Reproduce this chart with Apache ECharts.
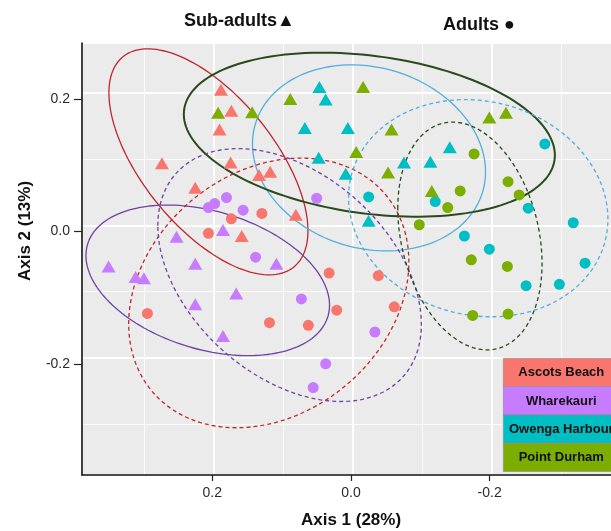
<!DOCTYPE html>
<html>
<head>
<meta charset="utf-8">
<script src="https://cdn.jsdelivr.net/npm/echarts@6/dist/echarts.min.js"></script>
<style>
html, body { margin: 0; padding: 0; background: #fff; }
#box1 { width: 611px; height: 531px; }
</style>
</head>
<body>
<div id="box1"></div>
<script>
var sites = ['Ascots Beach', 'Wharekauri', 'Owenga Harbour', 'Point Durham'];
var pointColors = ['#F8766D', '#C77CFF', '#00BFC4', '#7CAE00'];
var ellipseColors = ['#C0262D', '#6E42A3', '#4FB0DC', '#284A1C'];

// PCoA scores [axis 1, axis 2]
var ascotsSub = [[0.190, 0.205], [0.175, 0.173], [0.192, 0.145], [0.275, 0.094], [0.176, 0.095],
                 [0.135, 0.076], [0.119, 0.081], [0.227, 0.057], [0.082, 0.016], [0.160, -0.016]];
var ascotsAdult = [[0.131, 0.018], [0.175, 0.010], [0.208, -0.012], [0.296, -0.133], [0.120, -0.147],
                   [0.064, -0.151], [0.034, -0.072], [-0.037, -0.076], [0.023, -0.128], [-0.060, -0.123]];
var whareSub = [[0.254, -0.017], [0.187, -0.007], [0.352, -0.062], [0.313, -0.078], [0.301, -0.080],
                [0.227, -0.058], [0.110, -0.058], [0.168, -0.103], [0.227, -0.119], [0.187, -0.167]];
var whareAdult = [[0.182, 0.042], [0.199, 0.033], [0.208, 0.027], [0.158, 0.023], [0.140, -0.048],
                  [0.052, 0.041], [0.074, -0.111], [-0.032, -0.161], [0.039, -0.209], [0.057, -0.245]];
var owengaSub = [[0.048, 0.209], [0.039, 0.190], [0.069, 0.147], [0.007, 0.147], [0.049, 0.102],
                 [0.010, 0.078], [-0.023, 0.007], [-0.074, 0.095], [-0.112, 0.096], [-0.140, 0.118]];
var owengaAdult = [[-0.277, 0.123], [-0.023, 0.043], [-0.119, 0.036], [-0.253, 0.026], [-0.318, 0.004],
                   [-0.161, -0.016], [-0.197, -0.036], [-0.335, -0.057], [-0.250, -0.091], [-0.298, -0.089]];
var durhamSub = [[0.194, 0.170], [0.145, 0.171], [0.090, 0.191], [-0.015, 0.209], [-0.056, 0.145],
                 [-0.005, 0.111], [-0.051, 0.080], [-0.114, 0.052], [-0.197, 0.163], [-0.221, 0.170]];
var durhamAdult = [[-0.175, 0.108], [-0.224, 0.066], [-0.240, 0.046], [-0.155, 0.052], [-0.137, 0.027],
                   [-0.096, 0.001], [-0.171, -0.052], [-0.223, -0.062], [-0.173, -0.136], [-0.224, -0.134]];

// ellipses: [centre x, centre y, half width, half height, correlation]
var subEllipses = [[0.208, 0.096, 0.1435, 0.1707, 0.61], [0.209, -0.083, 0.1756, 0.1137, 0.33],
                   [-0.0235, 0.102, 0.168, 0.1405, 0.15], [-0.024, 0.137, 0.2675, 0.1239, 0.25]];
var adultEllipses = [[0.121, -0.102, 0.202, 0.2036, -0.23], [0.091, -0.075, 0.190, 0.191, 0.39],
                     [-0.181, 0.026, 0.187, 0.164, 0.10], [-0.169, -0.016, 0.104, 0.172, 0.24]];

var xTicks = [0.2, 0.0, -0.2];
var yTicks = [0.2, 0.0, -0.2];

var subData = [ascotsSub, whareSub, owengaSub, durhamSub];
var adultData = [ascotsAdult, whareAdult, owengaAdult, durhamAdult];

var dom = document.getElementById('box1');
var myChart = echarts.init(dom);
var font = '"Liberation Sans", Arial, sans-serif';

function ellipseSeries(data, dashed) {
    return {
        type: 'custom',
        data: data,
        encode: { x: 0, y: 1 },
        z: 3,
        silent: true,
        renderItem: function (params, api) {
            var cx = api.value(0), cy = api.value(1), hx = api.value(2), hy = api.value(3), r = api.value(4);
            var k = Math.sqrt(1 - r * r);
            var pts = [];
            for (var i = 0; i <= 160; i++) {
                var t = i / 160 * Math.PI * 2;
                pts.push(api.coord([cx + hx * Math.cos(t), cy + hy * (r * Math.cos(t) + k * Math.sin(t))]));
            }
            var solidGreen = !dashed && params.dataIndex === 3;
            return {
                type: 'polyline',
                shape: { points: pts },
                style: {
                    fill: null,
                    stroke: ellipseColors[params.dataIndex],
                    lineWidth: solidGreen ? 2 : 1.3,
                    lineDash: dashed ? [4, 3] : null
                }
            };
        }
    };
}

var series = [ellipseSeries(subEllipses, false), ellipseSeries(adultEllipses, true)];
sites.forEach(function (s, i) {
    series.push({
        name: s + ' sub-adults', type: 'scatter', data: subData[i], z: 4,
        symbol: 'triangle', symbolSize: [14, 12],
        itemStyle: { color: pointColors[i], opacity: 1 }
    });
    series.push({
        name: s + ' adults', type: 'scatter', data: adultData[i], z: 4,
        symbol: 'circle', symbolSize: 11,
        itemStyle: { color: pointColors[i], opacity: 1 }
    });
});

// legend boxes drawn as graphics (fill keys like the original)
var legendItems = [];
sites.forEach(function (s, i) {
    legendItems.push({
        type: 'rect', z: 100, shape: { x: 0, y: i * 28.3, width: 116, height: 28.3 },
        style: { fill: pointColors[i], stroke: '#8c8c8c', lineWidth: 0.6 }
    });
    legendItems.push({
        type: 'text', z: 101, x: 58, y: i * 28.3 + 14.5,
        style: { text: s, font: 'bold 13px ' + font, fill: '#111', align: 'center', verticalAlign: 'middle' }
    });
});

var option = {
    animation: false,
    backgroundColor: '#fff',
    textStyle: { fontFamily: font },
    grid: {
        left: 82, top: 43, width: 538, height: 432, outerBoundsMode: 'none', containLabel: false,
        show: true, backgroundColor: '#EBEBEB', borderWidth: 0
    },
    xAxis: [
        {   // panel grid lines
            type: 'value', position: 'top', inverse: true, min: -0.3854, max: 0.3903,
            minInterval: 0.2, maxInterval: 0.2,
            axisLine: { show: false }, axisTick: { show: false }, axisLabel: { show: false },
            splitLine: { show: true, lineStyle: { color: '#fff', width: 1.8 } },
            minorTick: { show: false, splitNumber: 2 },
            minorSplitLine: { show: true, lineStyle: { color: '#fff', width: 0.8 } }
        },
        {   // axis with ticks and labels
            type: 'value', position: 'bottom', inverse: true, min: -0.3854 - 0.0025, max: 0.3903 - 0.0025,
            splitLine: { show: false },
            axisLine: { show: true, onZero: false, lineStyle: { color: '#111', width: 1.6 } },
            axisTick: { show: true, length: 6, customValues: xTicks, lineStyle: { color: '#222', width: 1.2 } },
            axisLabel: {
                customValues: xTicks, margin: 11, fontSize: 14, color: '#2b2b2b', fontFamily: font,
                formatter: function (v) { return v.toFixed(1); }
            },
            name: 'Axis 1 (28%)', nameLocation: 'middle', nameGap: 37,
            nameTextStyle: { fontSize: 17, fontWeight: 'bold', color: '#111', fontFamily: font }
        }
    ],
    yAxis: [
        {
            type: 'value', position: 'right', min: -0.3770, max: 0.2755,
            minInterval: 0.2, maxInterval: 0.2,
            axisLine: { show: false }, axisTick: { show: false }, axisLabel: { show: false },
            splitLine: { show: true, lineStyle: { color: '#fff', width: 1.8 } },
            minorTick: { show: false, splitNumber: 2 },
            minorSplitLine: { show: true, lineStyle: { color: '#fff', width: 0.8 } }
        },
        {
            type: 'value', position: 'left', min: -0.3770 + 0.0091, max: 0.2755 + 0.0091,
            splitLine: { show: false },
            axisLine: { show: true, onZero: false, lineStyle: { color: '#111', width: 1.6 } },
            axisTick: { show: true, length: 8, customValues: yTicks, lineStyle: { color: '#222', width: 1.2 } },
            axisLabel: {
                customValues: yTicks, margin: 12, fontSize: 14, color: '#2b2b2b', fontFamily: font,
                formatter: function (v) { return v.toFixed(1); }
            }
        }
    ],
    graphic: [
        { type: 'text', x: 184, y: 21, style: { text: 'Sub-adults\u25B2', font: 'bold 18px ' + font, fill: '#111', verticalAlign: 'middle' } },
        { type: 'text', x: 443, y: 25, style: { text: 'Adults \u25CF', font: 'bold 18px ' + font, fill: '#111', verticalAlign: 'middle' } },
        { type: 'text', x: 25, y: 231, rotation: Math.PI / 2,
          style: { text: 'Axis 2 (13%)', font: 'bold 17px ' + font, fill: '#111', align: 'center', verticalAlign: 'middle' } },
        { type: 'group', x: 503.3, y: 358.3, z: 100, children: legendItems }
    ],
    series: series
};

if (option && typeof option === 'object') {
    myChart.setOption(option, true);
}
</script>
</body>
</html>
